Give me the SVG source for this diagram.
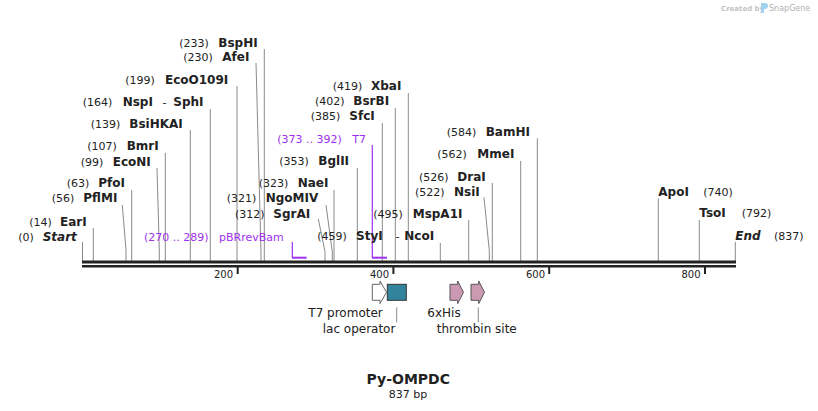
<svg xmlns="http://www.w3.org/2000/svg" width="818" height="411" viewBox="0 0 818 411">
<style>
text{font-family:"DejaVu Sans","Verdana",sans-serif;fill:#222}
.n{font-size:11px}
.b{font-size:12px;font-weight:bold}
.i{font-size:12px;font-weight:bold;font-style:italic}
.p{font-size:11px;fill:#a030f0}
.t{font-size:10px}
.f{font-size:12px}
.s{stroke:#8a8a8a;stroke-width:1;fill:none}
.pr{stroke:#a030f0;fill:none}
.bb{stroke:#222;fill:none}
</style>
<rect width="818" height="411" fill="#fff"/>

<!-- logo -->
<g id="logo">
<text x="721" y="10.5" style="font-size:7px;font-weight:bold;fill:#c4c4c4">Created by</text>
<path d="M761,3 h4 a3,3 0 0 1 0,6 h-1 v4 h-3 z" fill="#9fd3f0"/>
<text x="769" y="10.5" style="font-size:8px;fill:#b0b0b0">SnapGene</text>
</g>

<!-- connectors (site lines) -->
<g id="connectors">
<path class="s" d="M264.3,49V261"/>
<path class="s" d="M256,63L261,252V261"/>
<path class="s" d="M237,86V261"/>
<path class="s" d="M210.3,109V261"/>
<path class="s" d="M190.3,130V261"/>
<path class="s" d="M165.3,153V261"/>
<path class="s" d="M157,168L159.3,250V261"/>
<path class="s" d="M131.7,190V261"/>
<path class="s" d="M122.3,205L126,250V261"/>
<path class="s" d="M93.3,228V261"/>
<path class="s" d="M82.5,242V261"/>
<path class="s" d="M318.3,219L325,251.7V261"/>
<path class="s" d="M326,205L332.3,252V261"/>
<path class="s" d="M334,190V261"/>
<path class="s" d="M357.3,168V261"/>
<path class="s" d="M382.3,123V261"/>
<path class="s" d="M395.3,108V261"/>
<path class="s" d="M408.3,93V261"/>
<path class="s" d="M440.3,243V261"/>
<path class="s" d="M468.7,220V261"/>
<path class="s" d="M484,197.3L489.3,250.7V261"/>
<path class="s" d="M492.3,183V261"/>
<path class="s" d="M520.7,161V261"/>
<path class="s" d="M537.3,138.3V261"/>
<path class="s" d="M658.3,198.3V261"/>
<path class="s" d="M699.3,220V261"/>
<path class="s" d="M735.3,242V261"/>
<path class="s" d="M396.7,307.3V322.3"/>
<path class="s" d="M478.3,307.3V322.3"/>
<!-- primer brackets -->
<path class="pr" stroke-width="1.2" d="M292.3,242V257.7"/>
<path class="pr" stroke-width="2" d="M292,257.7H306.7"/>
<path class="pr" stroke-width="1.2" d="M372.3,145V257.7"/>
<path class="pr" stroke-width="2" d="M372,257.7H387"/>
</g>

<!-- backbone -->
<g id="backbone">
<path class="bb" stroke-width="3" d="M82,262H736"/>
<path class="bb" stroke-width="2.4" d="M82,266.3H736"/>
<path class="bb" stroke-width="2" d="M237.7,266V274M393.4,266V274M549.2,266V274M705,266V274"/>
<text class="t" x="233" y="278" text-anchor="end">200</text>
<text class="t" x="389" y="278" text-anchor="end">400</text>
<text class="t" x="545" y="278" text-anchor="end">600</text>
<text class="t" x="700.5" y="278" text-anchor="end">800</text>
</g>

<!-- sites -->
<g id="BspHI"><text class="n" x="179.3" y="47">(233)</text><text class="b" x="218.3" y="47">BspHI</text></g>
<g id="AfeI"><text class="n" x="183.3" y="61">(230)</text><text class="b" x="222.3" y="61">AfeI</text></g>
<g id="EcoO109I"><text class="n" x="125.3" y="84">(199)</text><text class="b" x="165" y="84">EcoO109I</text></g>
<g id="NspI-SphI"><text class="n" x="82.7" y="106">(164)</text><text class="b" x="122.7" y="106">NspI</text><text class="n" x="162.5" y="106">-</text><text class="b" x="173.3" y="106">SphI</text></g>
<g id="BsiHKAI"><text class="n" x="90.7" y="128.3">(139)</text><text class="b" x="129.3" y="128.3">BsiHKAI</text></g>
<g id="BmrI"><text class="n" x="87.3" y="150">(107)</text><text class="b" x="126.7" y="150">BmrI</text></g>
<g id="EcoNI"><text class="n" x="80.7" y="165.7">(99)</text><text class="b" x="112.7" y="165.7">EcoNI</text></g>
<g id="PfoI"><text class="n" x="66.7" y="187.3">(63)</text><text class="b" x="98.3" y="187.3">PfoI</text></g>
<g id="PflMI"><text class="n" x="51.7" y="202.3">(56)</text><text class="b" x="83.3" y="202.3">PflMI</text></g>
<g id="EarI"><text class="n" x="29.3" y="225.7">(14)</text><text class="b" x="60" y="225.7">EarI</text></g>
<g id="Start"><text class="n" x="18.3" y="240.7">(0)</text><text class="i" x="42.7" y="240.7">Start</text></g>
<g id="pBRrevBam"><text class="p" x="144" y="240.7">(270 .. 289)</text><text class="p" x="219" y="240.7">pBRrevBam</text></g>
<g id="SgrAI"><text class="n" x="235" y="217.7">(312)</text><text class="b" x="273.3" y="217.7">SgrAI</text></g>
<g id="NgoMIV"><text class="n" x="226.7" y="202.3">(321)</text><text class="b" x="265.7" y="202.3">NgoMIV</text></g>
<g id="NaeI"><text class="n" x="258.7" y="187.3">(323)</text><text class="b" x="297.7" y="187.3">NaeI</text></g>
<g id="BglII"><text class="n" x="279.3" y="165">(353)</text><text class="b" x="318.3" y="165">BglII</text></g>
<g id="T7"><text class="p" x="277.3" y="142.7">(373 .. 392)</text><text class="p" x="352.3" y="142.7">T7</text></g>
<g id="SfcI"><text class="n" x="310.7" y="120">(385)</text><text class="b" x="349.3" y="120">SfcI</text></g>
<g id="BsrBI"><text class="n" x="315" y="105">(402)</text><text class="b" x="353.3" y="105">BsrBI</text></g>
<g id="XbaI"><text class="n" x="332.7" y="90">(419)</text><text class="b" x="371" y="90">XbaI</text></g>
<g id="StyI-NcoI"><text class="n" x="317.3" y="240">(459)</text><text class="b" x="356" y="240">StyI</text><text class="n" x="395.5" y="240">-</text><text class="b" x="404.3" y="240">NcoI</text></g>
<g id="MspA1I"><text class="n" x="373.3" y="217.7">(495)</text><text class="b" x="412.7" y="217.7">MspA1I</text></g>
<g id="NsiI"><text class="n" x="415" y="196">(522)</text><text class="b" x="454" y="196">NsiI</text></g>
<g id="DraI"><text class="n" x="419" y="180.7">(526)</text><text class="b" x="457.3" y="180.7">DraI</text></g>
<g id="MmeI"><text class="n" x="437.3" y="158.3">(562)</text><text class="b" x="477.3" y="158.3">MmeI</text></g>
<g id="BamHI"><text class="n" x="446.7" y="135.7">(584)</text><text class="b" x="485.7" y="135.7">BamHI</text></g>
<g id="ApoI"><text class="b" x="658.3" y="196">ApoI</text><text class="n" x="703.3" y="196">(740)</text></g>
<g id="TsoI"><text class="b" x="699.3" y="217.3">TsoI</text><text class="n" x="741.7" y="217.3">(792)</text></g>
<g id="End"><text class="i" x="735.3" y="240">End</text><text class="n" x="774" y="240">(837)</text></g>

<!-- features -->
<g id="T7promoter">
<path d="M372.3,284.3H380V281L386.5,292.3L380,303.6V300.3H372.3Z" fill="#fff" stroke="#666" stroke-width="1"/>
<text class="f" x="308.3" y="316.7">T7 promoter</text>
</g>
<g id="lacoperator">
<rect x="387.3" y="284.3" width="19" height="16" fill="#31849b" stroke="#333" stroke-width="1"/>
<text class="f" x="322.7" y="332.7">lac operator</text>
</g>
<g id="6xHis">
<path d="M450,284.3H457.7V281L463.5,292.3L457.7,303.6V300.3H450Z" fill="#cc99b2" stroke="#555" stroke-width="1"/>
<text class="f" x="427.3" y="316.7">6xHis</text>
</g>
<g id="thrombinsite">
<path d="M471,284.3H478.7V281L484.5,292.3L478.7,303.6V300.3H471Z" fill="#cc99b2" stroke="#555" stroke-width="1"/>
<text class="f" x="436.7" y="332.7">thrombin site</text>
</g>

<!-- title -->
<g id="title">
<text x="408.3" y="384" text-anchor="middle" style="font-size:14px;font-weight:bold">Py-OMPDC</text>
<text x="408" y="397.7" text-anchor="middle" style="font-size:11px">837 bp</text>
</g>
</svg>
